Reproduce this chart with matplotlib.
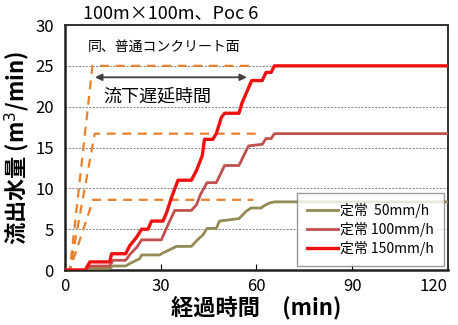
import matplotlib
matplotlib.use("Agg")
from matplotlib import pyplot as plt

plt.rcParams["font.family"] = ["Noto Sans CJK JP", "DejaVu Sans"]

# 定常降雨 (solid staircase curves)
t50 = [0, 6.5, 7.8, 14, 15, 19, 20.3, 23.4, 24, 29.6, 30.7, 31.8, 34.9, 39.6, 41.5, 43.2, 44.5,
       47.4, 48.4, 54.5, 56.8, 58.3, 61.4, 62.5, 64, 65.6, 120]
q50 = [0, 0, 0.2, 0.2, 0.5, 0.5, 0.8, 1.4, 1.85, 1.85, 2.1, 2.3, 2.9, 2.9, 3.7, 4.3, 5.1,
       5.1, 6.0, 6.3, 7.2, 7.6, 7.6, 7.9, 8.2, 8.35, 8.35]

t100 = [0, 6.5, 7.8, 14, 15, 19, 20.3, 22.5, 24, 30.2, 31.3, 32.8, 34.4, 39.6, 41.2, 42.5, 44.5,
        47.4, 48.4, 50, 54.5, 55.5, 57.5, 61.8, 63, 64.6, 65.6, 120]
q100 = [0, 0, 0.5, 0.5, 1.2, 1.2, 1.9, 2.8, 3.7, 3.7, 4.7, 6.0, 7.3, 7.3, 8.0, 9.3, 10.7,
        10.7, 11.5, 12.8, 12.8, 13.6, 15.2, 15.4, 16.1, 16.1, 16.7, 16.7]

t150 = [0, 6.3, 7.8, 14, 14.6, 19, 20.3, 22.4, 24, 26, 27.1, 30.7, 31.8, 33.3, 35.4, 39.6, 41.2,
        43, 43.7, 46.3, 47.4, 49, 50, 54.5, 55.5, 58.5, 61.8, 63, 64.6, 65.6, 120]
q150 = [0, 0, 1, 1, 2, 2, 3, 4, 5, 5, 6, 6, 7, 8.8, 11, 11, 12.2,
        14, 16, 16, 16.7, 18.7, 19.2, 19.2, 20.5, 23.2, 23.2, 24.2, 24.2, 25, 25]

# 同、普通コンクリート面 (dashed)
tc50 = [0, 1.5, 8.8, 59]
qc50 = [0, 0, 8.6, 8.6]
tc100 = [0, 1.5, 9.3, 61]
qc100 = [0, 0, 16.7, 16.7]
tc150 = [0, 1.5, 8.6, 59]
qc150 = [0, 0, 25, 25]

delay_start, delay_end, delay_level = 9.4, 57.0, 23.6

fig = plt.figure(figsize=(4.58, 3.25), dpi=100)
ax = fig.add_axes([0.142, 0.169, 0.836, 0.754])

orange = "#e8802e"
for tc, qc in [(tc50, qc50), (tc100, qc100), (tc150, qc150)]:
    ax.plot(tc, qc, color=orange, lw=1.6, ls=(0, (4, 3)), zorder=2)

ax.plot(t50, q50, color="#948a54", lw=2.0, label="定常  50mm/h", zorder=3)
ax.plot(t100, q100, color="#c0504d", lw=2.0, label="定常 100mm/h", zorder=3)
ax.plot(t150, q150, color="#ee1111", lw=2.4, label="定常 150mm/h", zorder=4)

ax.annotate("", xy=(delay_start, delay_level), xytext=(delay_end, delay_level),
            arrowprops=dict(arrowstyle="<|-|>", color="#404040", lw=1.3,
                            mutation_scale=10, shrinkA=0, shrinkB=0))
ax.text(7.2, 27.3, "同、普通コンクリート面", fontsize=10, va="center", ha="left")
ax.text(12, 21.2, "流下遅延時間", fontsize=13, va="center", ha="left",
        bbox=dict(facecolor="white", edgecolor="none", pad=1))

ax.set_xlim(0, 120)
ax.set_ylim(0, 30)
ax.set_xticks([0, 30, 60, 90, 120])
ax.set_yticks([0, 5, 10, 15, 20, 25, 30])
ax.tick_params(axis="x", direction="in", length=4, labelsize=12, pad=6)
ax.tick_params(axis="y", length=0, labelsize=12, pad=8)
ax.get_xticklabels()[-1].set_ha("right")
for y in [5, 10, 15, 20, 25]:
    ax.axhline(y, color="#808080", lw=0.7, ls=(0, (2, 1.5)), zorder=1)

for side in ["left", "bottom"]:
    ax.spines[side].set_linewidth(1.8)
    ax.spines[side].set_color("#202020")
for side in ["top", "right"]:
    ax.spines[side].set_linewidth(1.4)
    ax.spines[side].set_color("#303030")

ax.set_xlabel("経過時間　(min)", fontsize=16, fontweight="bold", labelpad=0)
ax.set_ylabel("流出水量 (m$^3$/min)", fontsize=16, fontweight="bold", labelpad=2)
fig.text(0.181, 0.958, "100m×100m、Poc 6", fontsize=13, va="center", ha="left")

leg = ax.legend(loc="lower right", fontsize=10, frameon=True, fancybox=False,
                edgecolor="#808080", handlelength=2.2, handletextpad=0.2,
                borderpad=0.7, labelspacing=0.3, borderaxespad=0.3)
leg.get_frame().set_linewidth(1.0)

fig.savefig("out.png", dpi=100)
